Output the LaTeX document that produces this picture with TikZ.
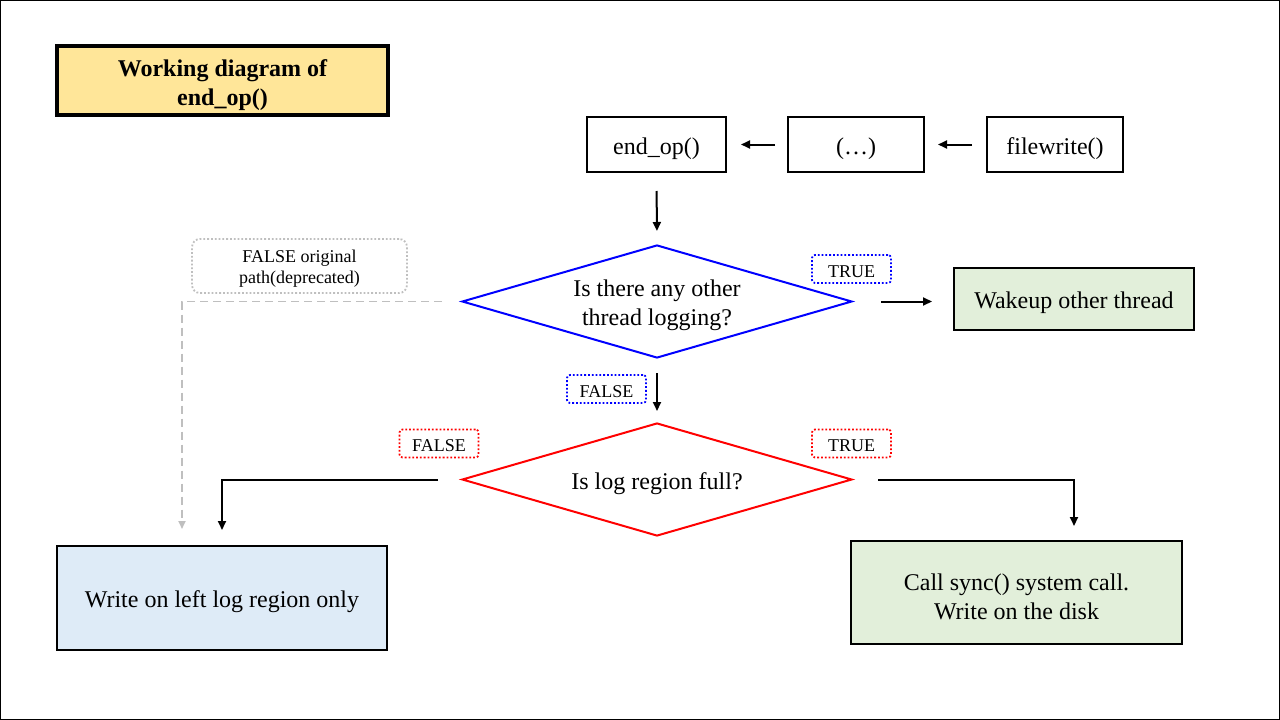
\documentclass[tikz,border=0pt]{standalone}
\usepackage{fontspec}
\setmainfont{Liberation Serif}
\usetikzlibrary{shapes.geometric,arrows.meta}
\definecolor{titlefill}{HTML}{FFE699}
\definecolor{greenfill}{HTML}{E2EFDA}
\definecolor{bluefill}{HTML}{DEEBF7}
\definecolor{lightgray}{HTML}{BFBFBF}
\tikzset{
  bigtxt/.style={label={[align=center, inner sep=0pt, yshift=-4pt, font=\fontsize{24}{29}\selectfont]center:#1}},
  boldtxt/.style={label={[align=center, inner sep=0pt, yshift=-5pt, font=\fontsize{24}{29}\selectfont\bfseries]center:#1}},
  smalltxt/.style={label={[align=center, inner sep=0pt, yshift=-2.5pt, font=\fontsize{18}{21}\selectfont]center:#1}},
  box/.style={draw=black, line width=2pt, rectangle, inner sep=0pt},
  decision/.style={diamond, aspect=3.45, line width=2pt, inner sep=0pt, minimum width=390pt, minimum height=113pt},
  tag/.style={rectangle, rounded corners=3pt, dotted, line width=1.8pt, inner sep=0pt, minimum width=79pt, minimum height=28pt},
  arr/.style={draw=black, line width=2pt, -{Triangle[length=9pt,width=8pt]}},
}
\begin{document}
\begin{tikzpicture}[x=1pt,y=-1pt]
\useasboundingbox (0,0) rectangle (1280,720);
\draw[line width=1pt] (0.5,0.5) rectangle (1279.5,719.5);

\node[box, line width=3.5pt, fill=titlefill, minimum width=331pt, minimum height=69pt, boldtxt={{Working diagram of\\end\_op()}}] (title) at (222.5,80.5) {};

\node[box, minimum width=139pt, minimum height=55pt, bigtxt={{end\_op()}}] (endop) at (656.5,144.5) {};
\node[box, minimum width=136pt, minimum height=55pt, bigtxt={{(…)}}] (dots) at (856,144.5) {};
\node[box, minimum width=136pt, minimum height=55pt, bigtxt={{filewrite()}}] (fw) at (1055,144.5) {};

\node[decision, draw=blue, bigtxt={{Is there any other\\thread logging?}}] (d1) at (657,301.5) {};
\node[decision, draw=red, bigtxt={{Is log region full?}}] (d2) at (657,479.5) {};

\node[box, fill=greenfill, minimum width=240pt, minimum height=62pt, bigtxt={{Wakeup other thread}}] (wake) at (1074,299) {};
\node[box, fill=bluefill, minimum width=330pt, minimum height=104pt, bigtxt={{Write on left log region only}}] (wl) at (222,598) {};
\node[box, fill=greenfill, minimum width=331pt, minimum height=103pt, bigtxt={{Call sync() system call.\\Write on the disk}}] (sync) at (1016.5,592.5) {};

\node[tag, draw=blue, smalltxt={TRUE}] (t1) at (851.5,269) {};
\node[tag, draw=blue, smalltxt={FALSE}] (f1) at (606.5,389) {};
\node[tag, draw=red, smalltxt={FALSE}] (f2) at (439,443.5) {};
\node[tag, draw=red, smalltxt={TRUE}] (t2) at (851.5,443.5) {};
\node[rectangle, rounded corners=8pt, draw=lightgray, dotted, line width=1.8pt, minimum width=215pt, minimum height=54pt, inner sep=0pt, smalltxt={{FALSE original\\path(deprecated)}}] (old) at (299.5,266) {};

\draw[arr, shorten <=12pt, shorten >=14pt] (dots.west) -- (endop.east);
\draw[arr, shorten <=14pt, shorten >=13pt] (fw.west) -- (dots.east);
\draw[arr, shorten <=18pt, shorten >=13pt] (endop.south) -- (d1.north);
\draw[arr, shorten <=28pt, shorten >=21pt] (d1.east) -- (d1.east -| wake.west);
\draw[arr, shorten <=14pt, shorten >=11pt] (d1.south) -- (d2.north);
\draw[arr, shorten <=23pt, shorten >=15pt] (d2.west) -| (wl.north);
\draw[arr, shorten <=25pt, shorten >=14pt] (d2.east) -| ([xshift=57.5pt]sync.north);
\draw[draw=lightgray, line width=1.8pt, dash pattern=on 8pt off 5pt, -{Triangle[length=8pt,width=7pt]}, shorten <=19pt, shorten >=16pt] (d1.west) -| ([xshift=-40pt]wl.north);
\end{tikzpicture}
\end{document}
